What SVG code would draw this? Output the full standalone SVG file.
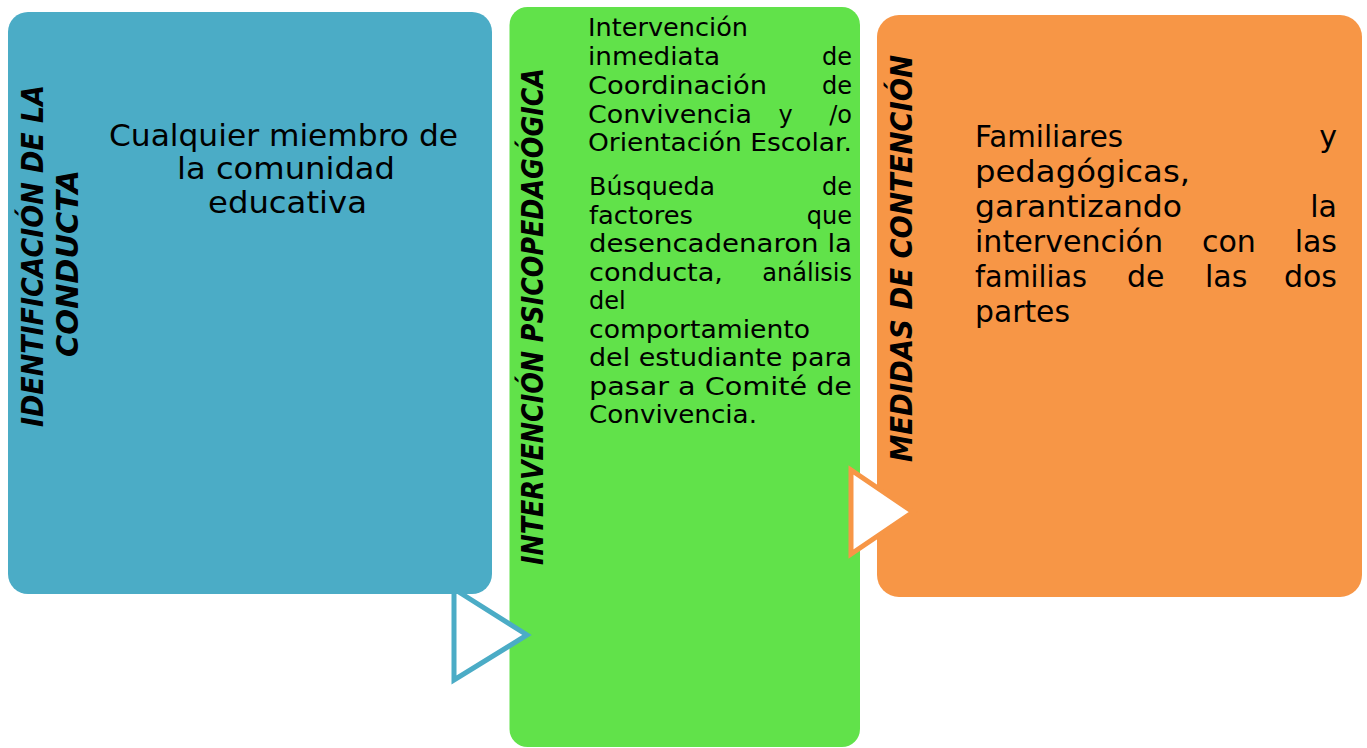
<svg xmlns="http://www.w3.org/2000/svg" width="1367" height="748" viewBox="0 0 1367 748">
<style>
text{font-family:"DejaVu Sans","Liberation Sans",sans-serif;fill:#000}
.t{font-weight:bold;font-style:italic;font-size:30px}
.b31{font-size:31px}
.b24{font-size:24px}
.b30{font-size:30px}
.e{text-anchor:end}
.tri{fill:#fff;stroke-width:5;stroke-linejoin:miter}
</style>
<rect width="1367" height="748" fill="#fff"/>
<g id="node-intervencion">
<rect x="509.5" y="7" width="350.5" height="740" rx="18" fill="#61E24A"/>
<text class="t" transform="translate(543,565) rotate(-90)" textLength="497" lengthAdjust="spacingAndGlyphs">INTERVENCIÓN PSICOPEDAGÓGICA</text>
<g class="b24">
<text x="588" y="36" textLength="160" lengthAdjust="spacingAndGlyphs">Intervención</text>
<text x="588" y="65" textLength="132" lengthAdjust="spacingAndGlyphs">inmediata</text>
<text x="852" y="65" class="e">de</text>
<text x="588" y="94" textLength="179" lengthAdjust="spacingAndGlyphs">Coordinación</text>
<text x="852" y="94" class="e">de</text>
<text x="588" y="122.5" textLength="164" lengthAdjust="spacingAndGlyphs">Convivencia</text>
<text x="785.5" y="122.5" text-anchor="middle">y</text>
<text x="852" y="122.5" class="e">/o</text>
<text x="588" y="151" textLength="264" lengthAdjust="spacingAndGlyphs">Orientación Escolar.</text>
<text x="589" y="195" textLength="126" lengthAdjust="spacingAndGlyphs">Búsqueda</text>
<text x="852" y="195" class="e">de</text>
<text x="589" y="223.5" textLength="104" lengthAdjust="spacingAndGlyphs">factores</text>
<text x="852" y="223.5" class="e">que</text>
<text x="589" y="252" textLength="263" lengthAdjust="spacingAndGlyphs">desencadenaron la</text>
<text x="589" y="280.5" textLength="134" lengthAdjust="spacingAndGlyphs">conducta,</text>
<text x="852" y="280.5" class="e">análisis</text>
<text x="589" y="309">del</text>
<text x="589" y="337.5" textLength="221" lengthAdjust="spacingAndGlyphs">comportamiento</text>
<text x="589" y="366" textLength="263" lengthAdjust="spacingAndGlyphs">del estudiante para</text>
<text x="589" y="394.5" textLength="263" lengthAdjust="spacingAndGlyphs">pasar a Comité de</text>
<text x="589" y="423" textLength="168" lengthAdjust="spacingAndGlyphs">Convivencia.</text>
</g>
</g>
<g id="node-medidas">
<rect x="877" y="15" width="485" height="582" rx="22" fill="#F79646"/>
<text class="t" transform="translate(912,462) rotate(-90)" textLength="407" lengthAdjust="spacingAndGlyphs">MEDIDAS DE CONTENCIÓN</text>
<g class="b30">
<text x="975" y="146.7" textLength="148" lengthAdjust="spacingAndGlyphs">Familiares</text>
<text x="1337" y="146.7" class="e">y</text>
<text x="975" y="181.7" textLength="215" lengthAdjust="spacingAndGlyphs">pedagógicas,</text>
<text x="975" y="216.7" textLength="207" lengthAdjust="spacingAndGlyphs">garantizando</text>
<text x="1337" y="216.7" class="e">la</text>
<text x="975" y="251.7" textLength="188" lengthAdjust="spacingAndGlyphs">intervención</text>
<text x="1202" y="251.7">con</text>
<text x="1337" y="251.7" class="e">las</text>
<text x="975" y="286.7" textLength="112" lengthAdjust="spacingAndGlyphs">familias</text>
<text x="1127" y="286.7">de</text>
<text x="1205" y="286.7">las</text>
<text x="1337" y="286.7" class="e">dos</text>
<text x="975" y="321.7" textLength="95" lengthAdjust="spacingAndGlyphs">partes</text>
</g>
</g>
<g id="connectors">
<polygon class="tri" stroke="#4BACC6" points="454,589 454,680 527,635"/>
<polygon class="tri" stroke="#F79646" points="851,470 851,554 913,512"/>
</g>
<g id="node-identificacion">
<rect x="8" y="12" width="484" height="582" rx="20" fill="#4BACC6"/>
<text class="t" transform="translate(43,427) rotate(-90)" textLength="342" lengthAdjust="spacingAndGlyphs">IDENTIFICACIÓN DE LA</text>
<text class="t" transform="translate(78,357) rotate(-90)" textLength="187" lengthAdjust="spacingAndGlyphs">CONDUCTA</text>
<g class="b31">
<text x="109" y="146" textLength="349" lengthAdjust="spacingAndGlyphs">Cualquier miembro de</text>
<text x="177" y="179" textLength="218" lengthAdjust="spacingAndGlyphs">la comunidad</text>
<text x="208" y="213" textLength="159" lengthAdjust="spacingAndGlyphs">educativa</text>
</g>
</g>
</svg>
